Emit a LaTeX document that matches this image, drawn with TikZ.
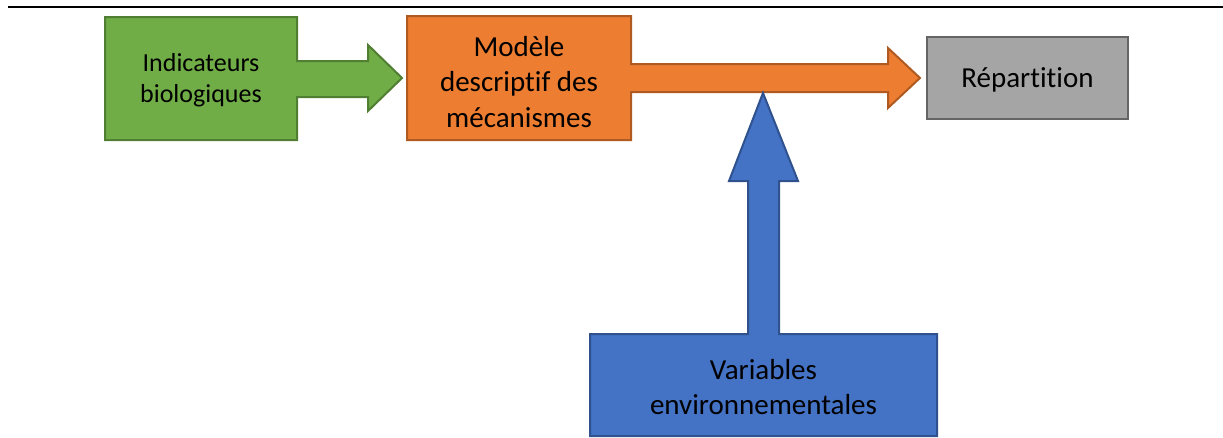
\documentclass[tikz,border=0pt]{standalone}
\usepackage{fontspec}
\setmainfont[Ligatures={NoCommon}]{Carlito}
\definecolor{gfill}{HTML}{70AD47}
\definecolor{gline}{HTML}{507E32}
\definecolor{ofill}{HTML}{ED7D31}
\definecolor{oline}{HTML}{AE5A21}
\definecolor{kfill}{HTML}{A5A5A5}
\definecolor{kline}{HTML}{656565}
\definecolor{bfill}{HTML}{4472C4}
\definecolor{bline}{HTML}{2F528F}
\begin{document}
\begin{tikzpicture}[x=1pt,y=-1pt,
  shapeg/.style={fill=gfill,draw=gline,line width=2pt,line join=miter},
  shapeo/.style={fill=ofill,draw=oline,line width=2pt,line join=miter},
  shapek/.style={fill=kfill,draw=kline,line width=2pt},
  shapeb/.style={fill=bfill,draw=bline,line width=2pt,line join=miter},
  lbl/.style={align=center,text=black,inner sep=0pt},
  big/.style={font=\fontsize{29}{35.5}\selectfont},
  small/.style={font=\fontsize{26}{30.5}\selectfont}]
\useasboundingbox (0,0) rectangle (1223,437);
% top rule
\draw[line width=2.5pt] (8,7) -- (1223,7);
% green box with arrow
\draw[shapeg] (105,17) -- (297,17) -- (297,61) -- (368,61) -- (368,45) -- (402,78)
  -- (368,111) -- (368,97) -- (297,97) -- (297,140) -- (105,140) -- cycle;
\node[lbl,small] (ind) at (201,80) {Indicateurs\\biologiques};
% orange box with arrow
\draw[shapeo] (407,16) -- (631,16) -- (631,64) -- (888,64) -- (888,48) -- (920,78)
  -- (888,108) -- (888,92) -- (631,92) -- (631,140) -- (407,140) -- cycle;
\node[lbl,big] (mod) at (519,82) {Modèle\\descriptif des\\mécanismes};
% grey box
\draw[shapek] (927,37) rectangle (1128,119);
\node[lbl,big] (rep) at (1027.5,80) {Répartition};
% blue box with arrow
\draw[shapeb] (590,334) -- (748,334) -- (748,181) -- (729,181) -- (763,93) -- (798,181)
  -- (779,181) -- (779,334) -- (937,334) -- (937,436) -- (590,436) -- cycle;
\node[lbl,big] (var) at (763.5,387) {Variables\\environnementales};
\end{tikzpicture}
\end{document}
